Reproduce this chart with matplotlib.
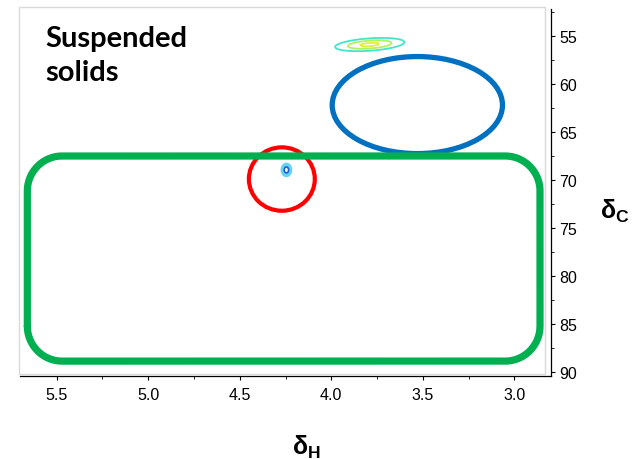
import matplotlib.pyplot as plt
import matplotlib.patches as mpatches
from matplotlib.ticker import MultipleLocator
import numpy as np

# cross peaks: (dH, dC, sigma_H, sigma_C, tilt)
peak_h = [3.79, 4.245]
peak_c = [55.9, 68.95]
peak_sh = [0.088, 0.011]
peak_sc = [0.30, 0.28]
peak_tilt = [1.3, 0.0]

# highlighted regions (ppm)
blue_centre = [3.53, 62.2]
blue_size = [0.93, 10.1]
red_centre = [4.27, 69.9]
red_size = [0.36, 6.6]
green_h = [5.66, 2.86]
green_c = [67.5, 88.85]

x_ticks = [5.5, 5.0, 4.5, 4.0, 3.5, 3.0]
y_ticks = [55, 60, 65, 70, 75, 80, 85, 90]


def rounded_rect(x0, x1, y0, y1, rx, ry, n=40):
    xa, xb = min(x0, x1), max(x0, x1)
    ya, yb = min(y0, y1), max(y0, y1)
    t = np.linspace(0, np.pi / 2, n)
    pts = []
    # corners: (cx, cy, start angle)
    for cx, cy, a0 in [(xb - rx, yb - ry, 0), (xa + rx, yb - ry, np.pi / 2),
                       (xa + rx, ya + ry, np.pi), (xb - rx, ya + ry, 1.5 * np.pi)]:
        pts += list(zip(cx + rx * np.cos(a0 + t), cy + ry * np.sin(a0 + t)))
    pts.append(pts[0])
    return np.array(pts)


fig = plt.figure(figsize=(6.35, 4.6), dpi=100)
ax = fig.add_axes([20 / 635, 1 - 377 / 460, 531 / 635, 367 / 460])

xlim = (5.70, 2.80)
ylim = (90.4, 52.2)

# synthetic spectrum from the peak list
hh = np.linspace(2.8, 5.7, 1400)
cc = np.linspace(52, 91, 900)
H, Cg = np.meshgrid(hh, cc)
spectra = []
for i in range(len(peak_h)):
    cs = Cg - peak_c[i] - peak_tilt[i] * (H - peak_h[i])
    z = np.exp(-0.5 * ((H - peak_h[i]) / peak_sh[i]) ** 2 - 0.5 * (cs / peak_sc[i]) ** 2)
    spectra.append(z)

ax.contour(H, Cg, spectra[0], levels=[0.1, 0.4, 0.85],
           colors=['#3ee8c8', '#b4f060', '#e2ee3a'], linewidths=1.3)
ax.contour(H, Cg, spectra[1], levels=[0.1, 0.3],
           colors=['#62d4f4', '#62d4f4'], linewidths=2.2)
ax.contour(H, Cg, spectra[1], levels=[0.55],
           colors=['#1f5fd0'], linewidths=1.2)

ax.add_patch(mpatches.Ellipse(blue_centre, blue_size[0], blue_size[1],
                              fill=False, ec='#0070c0', lw=3.8))
ax.add_patch(mpatches.Ellipse(red_centre, red_size[0], red_size[1],
                              fill=False, ec='#ff0000', lw=3.0))
rr = rounded_rect(green_h[0], green_h[1], green_c[0], green_c[1], 0.19, 3.65)
ax.plot(rr[:, 0], rr[:, 1], color='#00b050', lw=5.2, solid_capstyle='round')

ax.set_xlim(xlim)
ax.set_ylim(ylim)

ax.spines['left'].set_visible(False)
ax.spines['top'].set_visible(False)
ax.spines['right'].set_linewidth(0.9)
ax.spines['bottom'].set_linewidth(0.9)
ax.yaxis.tick_right()
ax.set_xticks(x_ticks)
ax.set_xticklabels(['%.1f' % v for v in x_ticks])
ax.set_yticks(y_ticks)
ax.xaxis.set_minor_locator(MultipleLocator(0.25))
ax.yaxis.set_minor_locator(MultipleLocator(2.5))
ax.tick_params(which='major', length=3, width=0.8, labelsize=11.5, pad=5)
ax.tick_params(which='minor', length=2, width=0.6)
ax.tick_params(axis='y', which='both', left=False, right=True, pad=3)
for lab in ax.get_xticklabels() + ax.get_yticklabels():
    lab.set_fontfamily('Liberation Sans')

# light frame round the plot area
fig.add_artist(mpatches.Rectangle((19 / 635, 1 - 375 / 460), 526 / 635, 367 / 460,
                                  transform=fig.transFigure, fill=False,
                                  ec='#d9d9d9', lw=1))

fig.text(45 / 635, 1 - 26 / 460, 'Suspended\nsolids', fontsize=21, fontweight='bold',
         family='Lato', va='top', ha='left', linespacing=1.4)
fig.text(306 / 635, 1 - 447 / 460, r'δ$_\mathregular{H}$', fontsize=18, fontweight='bold',
         family='Liberation Sans', ha='center', va='center')
fig.text(615 / 635, 1 - 211 / 460, r'δ$_\mathregular{C}$', fontsize=18, fontweight='bold',
         family='Liberation Sans', ha='center', va='center')

fig.savefig('out.png', dpi=100)
